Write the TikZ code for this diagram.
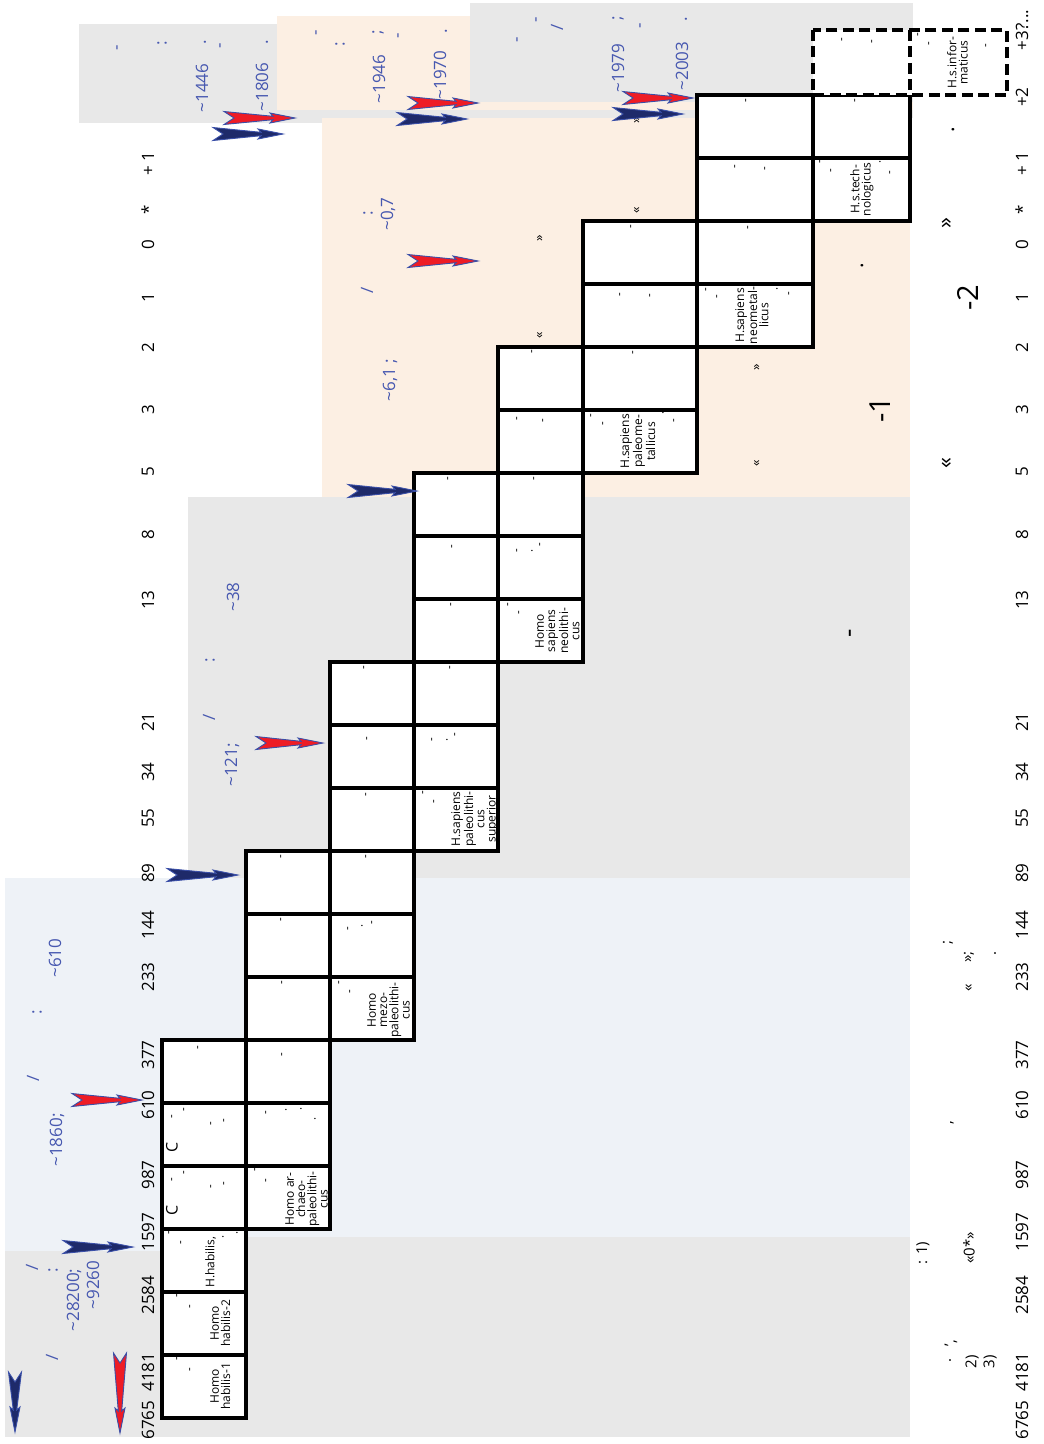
\documentclass[tikz,border=0pt]{standalone}
\usepackage{fontspec}
\setmainfont{Open Sans}
\definecolor{bgGray}{HTML}{E8E8E8}
\definecolor{bgPeach}{HTML}{FCEFE3}
\definecolor{bgBlue}{HTML}{EEF2F7}
\definecolor{txtBlue}{HTML}{4758B0}
\definecolor{navyF}{HTML}{1E2A6A}
\definecolor{redF}{HTML}{EE1C25}
\definecolor{edgeBlue}{HTML}{3A4FA8}
\newcommand{\slsh}{/}
\tikzset{
  cellbox/.style={draw=black, line width=3.3pt, fill=white, minimum height=63pt, inner sep=0pt},
  dcellbox/.style={fill=white, draw=none, minimum height=65pt, minimum width=97pt, inner sep=0pt},
  dline/.style={draw=black, line width=4pt, dash pattern=on 11pt off 5.5pt},
  lbl/.style={rotate=90, anchor=north, inner sep=0pt, align=center, font=\fontsize{12}{11.3}\selectfont},
  mk/.style={rotate=90, inner sep=0pt, font=\fontsize{11.5}{11.5}\selectfont},
  axnum/.style={rotate=90, inner sep=0pt, font=\fontsize{17}{17}\selectfont},
  btxt/.style={rotate=90, inner sep=0pt, text=txtBlue, font=\fontsize{17}{17}\selectfont},
  ktxt/.style={rotate=90, inner sep=0pt, font=\fontsize{15}{15}\selectfont},
  pics/dart/.style 2 args={code={
    \filldraw[fill=#1, draw=edgeBlue, line width=0.9pt, line join=miter]
      (-#2,-6.5) -- (-22,-1.7) -- (-25,-5) -- (0,0) -- (-25,5) -- (-22,1.7) -- (-#2,6.5) -- (-#2+10,0) -- cycle;}}
}
\begin{document}
\begin{tikzpicture}[x=1pt,y=-1pt]
\useasboundingbox (0,0) rectangle (1044,1444);
\fill[white] (0,0) rectangle (1044,1444);
% ---------- backgrounds ----------
\fill[bgGray] (79,24) rectangle (470,123);
\fill[bgPeach] (277,16) rectangle (470,110);
\fill[bgGray] (470,3) rectangle (913,102);
\fill[bgPeach] (470,102) rectangle (913,110);
\fill[bgGray] (79,110) rectangle (913,118);
\fill[bgPeach] (322,118) rectangle (910,497);
\fill[bgGray] (188,497) rectangle (910,878);
\fill[bgBlue] (5,878) rectangle (910,1237);
\fill[bgGray] (5,1237) rectangle (910,1437);
\fill[bgBlue] (5,1237) rectangle (162,1251);
% ---------- cells ----------
\foreach \col/\xa/\xb/\ya/\num in {1/162/246/1040/6, 2/246/330/851/6, 3/330/414/662/6, 4/414/498/473/6, 5/498/583/347/5, 6/583/697/221/4, 7/697/813/95/4, 8/813/910/95/2}{
  \foreach \k in {1,...,\num}{
    \pgfmathsetmacro\yc{\ya+63*(\k-1)+31.5}
    \pgfmathsetmacro\xc{(\xa+\xb)/2}
    \pgfmathsetmacro\w{\xb-\xa}
    \node[cellbox, minimum width=\w pt] (c\col-\k) at (\xc,\yc) {};
  }
}
\node[dcellbox] (d1) at (861.5,62.5) {};
\node[dcellbox] (d2) at (958.5,62.5) {};
\draw[dline] (d1.north west) rectangle (d2.south east);
\draw[dline] (d1.north east) -- (d1.south east);
% ---------- cell labels ----------
\node[lbl] (l1) at (210,1386.5) {Homo\\habilis-1};
\node[lbl] (l2) at (210,1323.5) {Homo\\habilis-2};
\node[lbl] (l3) at (205,1262) {H.habilis,};
\node[rotate=90, inner sep=0pt, font=\fontsize{16}{16}\selectfont] (l4) at (172,1210) {C};
\node[rotate=90, inner sep=0pt, font=\fontsize{16}{16}\selectfont] (l5) at (172,1147) {C};
\node[lbl] (l6) at (285,1199) {Homo ar-\\chaeo-\\paleolithi-\\cus};
\node[lbl] (l7) at (367,1010) {Homo\\mezo-\\paleolithi-\\cus};
\node[lbl] (l8) at (451,819) {H.sapiens\\paleolithi-\\cus\\superior};
\node[lbl] (l9) at (535,631) {Homo\\sapiens\\neolithi-\\cus};
\node[lbl] (l10) at (620,441.5) {H.sapiens\\paleome-\\tallicus};
\node[lbl] (l11) at (735,315.5) {H.sapiens\\neometal-\\licus};
\node[lbl] (l12) at (850,189.5) {H.s.tech-\\nologicus};
\node[lbl] (l13) at (947,62.5) {H.s.infor-\\maticus};
% ---------- small marks in cells ----------
\foreach \x/\y/\t [count=\i] in {199/1048/-, 173/1117/-, 185/1110/-, 212/1124/-, 225/1121/-, 173/1180/-, 185/1173/-, 212/1187/-, 225/1184/-, 170/1233/-, 182/1243/-, 223/1237/., 237/1233/., 178/1296/-, 191/1307/-, 178/1359/-, 191/1370/-,
 282/857/-, 282/920/-, 283/983/-, 283/1055/-, 267/1113/-, 286/1110/., 301/1109/., 315/1119/., 256/1170/-, 267/1181/-,
 365/668/-, 368/739/-, 367/795/-, 367/857/-, 349/929/-, 362/926/., 373/923/-, 340/983/-, 351/992/-,
 449/479/-, 453/547/-, 452/605/-, 451/668/-, 433/740/-, 447/740/., 456/735/-, 424/793/-, 435/802/-,
 533/352/-, 518/419/-, 544/421/-, 535/479/-, 518/551/-, 532/551/., 541/545/-, 509/605/-, 520/613/-,
 632/227/-, 621/295/-, 651/296/-, 634/353/-, 592/416/-, 604/424/-, 663/413/., 675/421/-,
 747/101/-, 736/167/-, 766/169/-, 749/228/-, 707/290/-, 718/297/-, 777/289/., 790/294/-,
 856/101/-, 821/162/-, 832/171/-, 880/162/., 891/173/-,
 843/40/-, 873/42/-, 919/35/-, 930/44/-, 976/30/., 987/46/-}
 { \node[mk] (mk\i) at (\x,\y) {\t}; }
% ---------- axis numbers ----------
\foreach \y/\t [count=\i] in {1420/6765, 1372/4181, 1295/2584, 1232/1597, 1175/987, 1105/610, 1055/377, 977/233, 925/144, 873/89, 818/55, 772/34, 722/21, 600/13, 535/8, 472/5, 410/3, 348/2, 298/1, 245/0, 210/*, 164/+ 1}
 { \node[axnum] (axl\i) at (148,\y) {\t};
   \node[axnum] (axr\i) at (1022,\y) {\t}; }
\node[axnum] (axr23) at (1022,97) {+2};
\node[axnum] (axr24) at (1022,30) {+3?...};
% ---------- blue annotations ----------
\foreach \x/\y/\t [count=\i] in {74/1300/{\textasciitilde 28200;}, 93/1285/{\textasciitilde 9260}, 32/1267/\slsh, 53/1270/:, 52/1357/\slsh,
 57/1140/{\textasciitilde 1860;}, 33/1078/\slsh, 37/1012/:, 55/958/{\textasciitilde 610},
 232/765/{\textasciitilde 121;}, 209/717/\slsh, 210/660/:, 233/597/{\textasciitilde 38},
 390/380/{\textasciitilde 6,1 ;}, 367/290/\slsh, 368/213/:, 388/214/{\textasciitilde 0,7},
 202/88/{\textasciitilde 1446}, 262/87/{\textasciitilde 1806}, 379/79/{\textasciitilde 1946}, 440/75/{\textasciitilde 1970}, 618/68/{\textasciitilde 1979}, 682/66/{\textasciitilde 2003},
 119/48/-, 162/43/:, 205/42/., 222/46/-, 267/42/., 318/33/-, 340/44/:, 378/32/;, 400/36/-, 446/31/., 519/40/-, 538/20/-, 557/27/\slsh, 618/18/;, 642/26/-, 686/19/.}
 { \node[btxt] (bt\i) at (\x,\y) {\t}; }
% ---------- black annotations ----------
\foreach \x/\y/\t [count=\i] in {948/942/;, 969/957/{»;}, 995/953/., 969/988/«, 952/1123/{,}, 923/1253/{: 1)}, 969/1248/{«0*»}, 950/1360/., 951/1343/{’,}, 972/1362/{2)}, 990/1362/{3)}}
 { \node[ktxt] (kt\i) at (\x,\y) {\t}; }
\foreach \x/\y/\t [count=\i] in {637/120/», 637/210/«, 540/238/», 540/335/«, 757/367/», 757/463/«}
 { \node[rotate=90, inner sep=0pt, font=\fontsize{13}{13}\selectfont] (gq\i) at (\x,\y) {\t}; }
\node[rotate=90, inner sep=0pt, font=\fontsize{22}{22}\selectfont] (gq7) at (947,223) {»};
\node[rotate=90, inner sep=0pt, font=\fontsize{22}{22}\selectfont] (gq8) at (947,463) {«};
\node[rotate=90, inner sep=0pt, font=\fontsize{21}{21}\selectfont] (dt1) at (862,266) {.};
\node[rotate=90, inner sep=0pt, font=\fontsize{21}{21}\selectfont] (dt2) at (953,130) {.};
\node[rotate=90, inner sep=0pt, font=\fontsize{26}{26}\selectfont] (dash1) at (853,633) {-};
\node[rotate=90, inner sep=0pt, font=\fontsize{29}{29}\selectfont] (m1) at (880,410) {-1};
\node[rotate=90, inner sep=0pt, font=\fontsize{29}{29}\selectfont] (m2) at (968,298) {-2};
% ---------- darts ----------
\pic at (295,118) {dart={redF}{71}};
\pic at (283,134) {dart={navyF}{70}};
\pic at (478,103) {dart={redF}{70}};
\pic at (467,119) {dart={navyF}{70}};
\pic at (693,98) {dart={redF}{70}};
\pic at (683,114) {dart={navyF}{70}};
\pic at (478,261) {dart={redF}{70}};
\pic at (417,491) {dart={navyF}{69}};
\pic at (323,743) {dart={redF}{67}};
\pic at (238,875) {dart={navyF}{71}};
\pic at (142,1100) {dart={redF}{70}};
\pic at (133,1247) {dart={navyF}{70}};
\pic[rotate=-90] at (15,1432) {dart={navyF}{60}};
\pic[rotate=-90] at (120,1433) {dart={redF}{80}};
\end{tikzpicture}
\end{document}
